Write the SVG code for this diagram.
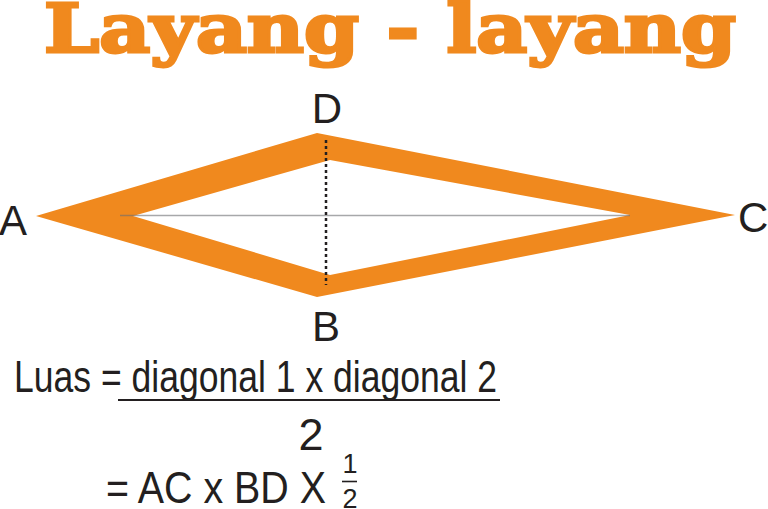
<svg xmlns="http://www.w3.org/2000/svg" width="768" height="509" viewBox="0 0 768 509">
<style>
.lbl{font-family:"Liberation Sans",Arial,sans-serif;font-size:42px;fill:#231f20}
.f{font-family:"Liberation Sans",Arial,sans-serif;font-size:45px;fill:#231f20}
</style>
<rect width="768" height="509" fill="#ffffff"/>
<g id="title">
<text x="44" y="52" textLength="692" lengthAdjust="spacingAndGlyphs" font-family="'DejaVu Serif',serif" font-weight="bold" font-size="67" fill="#f0891e" stroke="#f0891e" stroke-width="3" stroke-linejoin="miter">Layang - layang</text>
</g>
<g id="kite">
<path d="M36,216 L317,133 L735,215 L317,297 Z M133,216 L330,160 L630,215 L330,275 Z" fill="#f0891e" fill-rule="evenodd"/>
</g>
<g id="diagonals">
<line x1="120" y1="215.5" x2="630" y2="215.5" stroke="#6d6e71" stroke-opacity="0.6" stroke-width="1.6"/>
<line x1="326" y1="140" x2="326" y2="285" stroke="#231f20" stroke-width="2.5" stroke-dasharray="3 3"/>
</g>
<g id="labels">
<text class="lbl" x="327" y="123" text-anchor="middle">D</text>
<text class="lbl" x="326" y="341" text-anchor="middle">B</text>
<text class="lbl" x="-1" y="235">A</text>
<text class="lbl" x="738" y="232">C</text>
</g>
<g id="formula">
<text class="f" x="14" y="392" textLength="483" lengthAdjust="spacingAndGlyphs">Luas = diagonal 1 x diagonal 2</text>
<line x1="118" y1="400" x2="500" y2="400" stroke="#231f20" stroke-width="2.2"/>
<text class="f" x="311" y="450" text-anchor="middle" font-size="46">2</text>
<text class="f" x="106" y="503" textLength="220" lengthAdjust="spacingAndGlyphs">= AC x BD X</text>
<text x="350" y="473" text-anchor="middle" font-family="'Liberation Sans',Arial,sans-serif" font-size="27" fill="#231f20">1</text>
<line x1="342" y1="481.5" x2="357" y2="481.5" stroke="#231f20" stroke-width="1.6"/>
<text x="350" y="508" text-anchor="middle" font-family="'Liberation Sans',Arial,sans-serif" font-size="27" fill="#231f20">2</text>
</g>
</svg>
